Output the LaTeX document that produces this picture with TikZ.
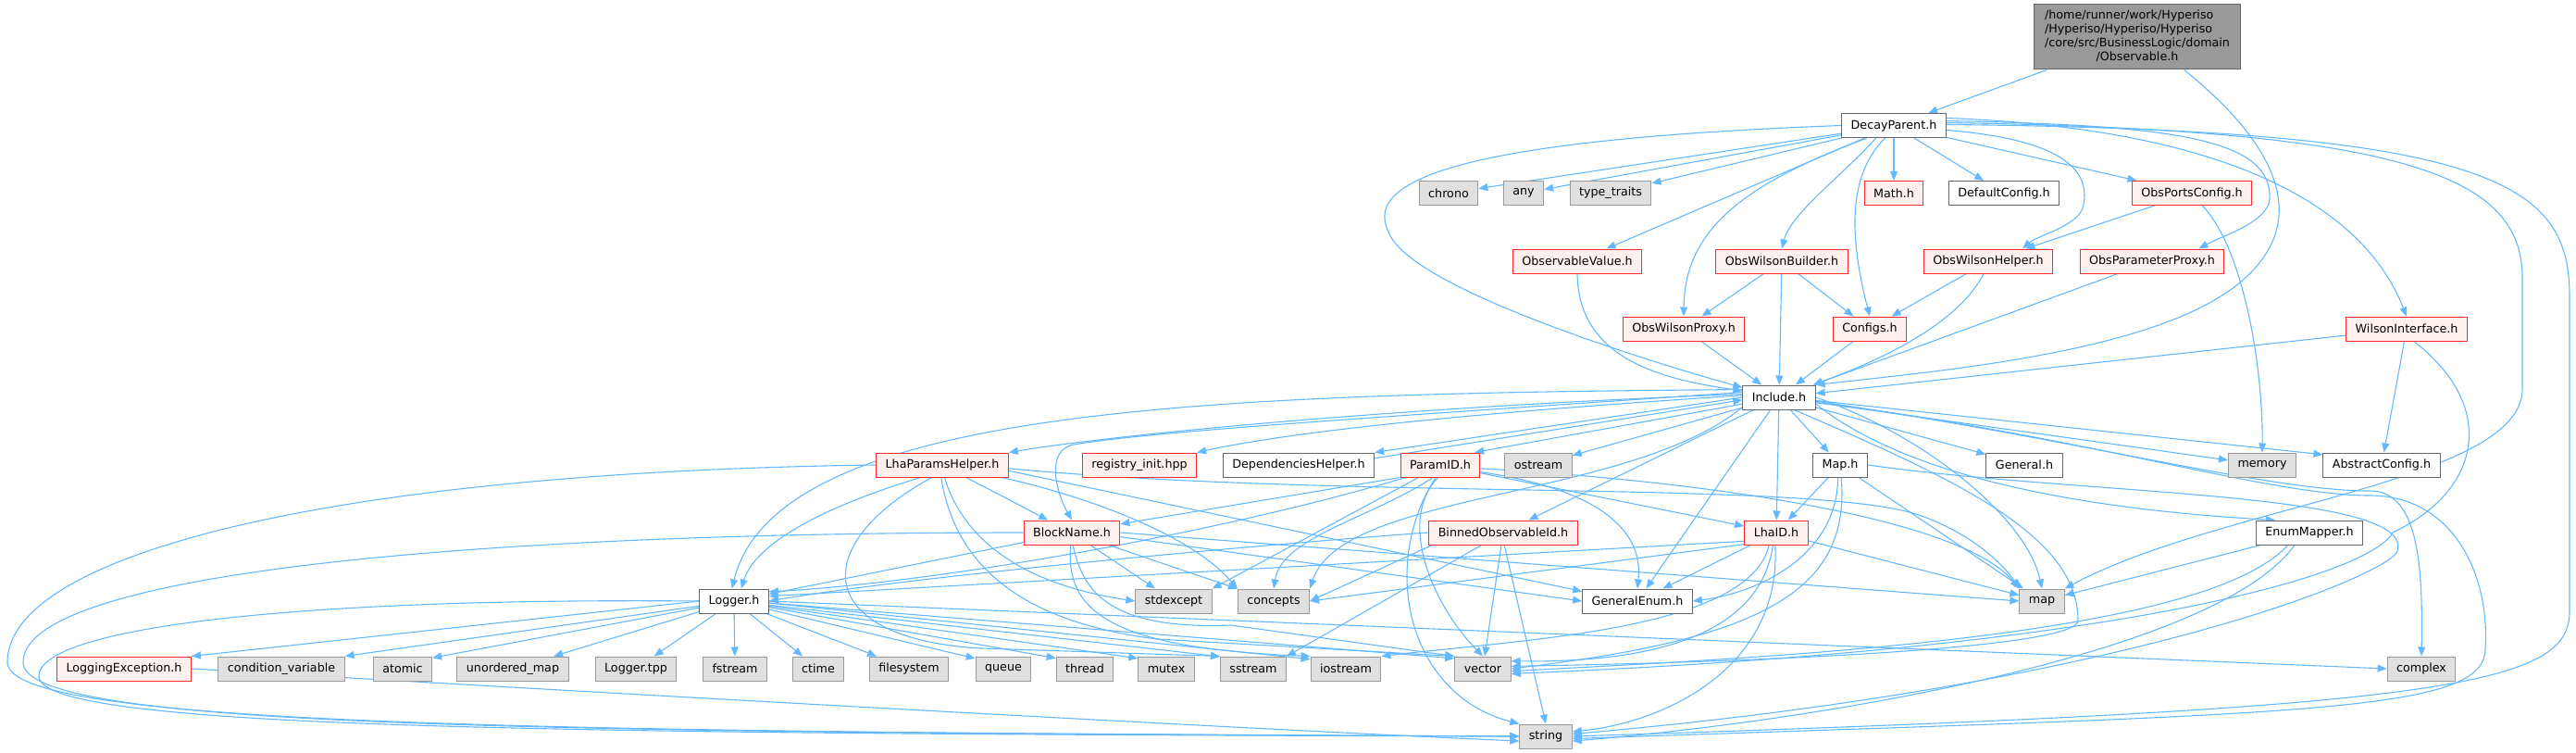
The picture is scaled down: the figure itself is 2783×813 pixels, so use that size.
\documentclass[tikz,border=0pt]{standalone}
\usepackage{fontspec}
\setmainfont{DejaVu Sans}
\usetikzlibrary{arrows.meta,backgrounds}
\definecolor{bleu}{HTML}{63B8FF}
\definecolor{rouge}{HTML}{FF2A2A}
\definecolor{rose}{HTML}{FFF0F0}
\definecolor{grisclair}{HTML}{E0E0E0}
\definecolor{grismoyen}{HTML}{999999}
\definecolor{grisfonce}{HTML}{666666}
\tikzstyle{boite}=[rectangle,line width=1pt,minimum height=26pt,inner xsep=10pt,inner ysep=2pt,font=\fontsize{12.7}{15}\selectfont]
\tikzstyle{fichier}=[boite,draw=grisfonce,fill=white]
\tikzstyle{incomplet}=[boite,draw=rouge,fill=rose]
\tikzstyle{systeme}=[boite,draw=grismoyen,fill=grisclair]
\tikzstyle{racine}=[boite,draw=grisfonce,fill=grismoyen,inner xsep=12pt,inner ysep=5pt]
\tikzstyle{lien}=[->,draw=bleu,line width=1.1pt]

\begin{document}
\begin{tikzpicture}[x=1pt,y=-1pt,>={Triangle[length=10pt,width=8pt]}]
\useasboundingbox (0,0) rectangle (2783,813);

\node[racine] (observable) at (2309,40) {\begin{tabular}{@{}l@{}}/home/runner/work/Hyperiso\\/Hyperiso/Hyperiso/Hyperiso\\/core/src/BusinessLogic/domain\\\multicolumn{1}{@{}c@{}}{/Observable.h}\end{tabular}};
\node[fichier] (decay) at (2046,135.5) {DecayParent.h};
\node[systeme] (chrono) at (1565,208.5) {chrono};
\node[systeme] (any) at (1646,208.5) {any};
\node[systeme] (typetraits) at (1740,208.5) {type\_traits};
\node[incomplet] (math) at (2046,208.5) {Math.h};
\node[fichier] (defaultconfig) at (2165,208.5) {DefaultConfig.h};
\node[incomplet] (portsconfig) at (2368,208.5) {ObsPortsConfig.h};
\node[incomplet] (observablevalue) at (1704,282) {ObservableValue.h};
\node[incomplet] (wilsonbuilder) at (1925,282) {ObsWilsonBuilder.h};
\node[incomplet] (wilsonhelper) at (2148,282) {ObsWilsonHelper.h};
\node[incomplet] (parameterproxy) at (2325,282) {ObsParameterProxy.h};
\node[incomplet] (wilsonproxy) at (1819,355) {ObsWilsonProxy.h};
\node[incomplet] (configs) at (2020,355) {Configs.h};
\node[incomplet] (wilsoninterface) at (2600,355) {WilsonInterface.h};
\node[fichier] (include) at (1922,429) {Include.h};
\node[incomplet] (lhaparams) at (1018,502) {LhaParamsHelper.h};
\node[incomplet] (registry) at (1231,502) {registry\_init.hpp};
\node[fichier] (dependencies) at (1403,502) {DependenciesHelper.h};
\node[incomplet] (paramid) at (1556,502) {ParamID.h};
\node[systeme] (ostream) at (1662,502) {ostream};
\node[fichier] (maph) at (1988,502) {Map.h};
\node[fichier] (general) at (2187,502) {General.h};
\node[systeme] (memory) at (2444,502) {memory};
\node[fichier] (abstractconfig) at (2573,502) {AbstractConfig.h};
\node[incomplet] (blockname) at (1158,575) {BlockName.h};
\node[incomplet] (binned) at (1624,575) {BinnedObservableId.h};
\node[incomplet] (lhaid) at (1919,575) {LhaID.h};
\node[fichier] (enummapper) at (2495,575) {EnumMapper.h};
\node[fichier] (logger) at (793,649) {Logger.h};
\node[systeme] (stdexcept) at (1268,649) {stdexcept};
\node[systeme] (concepts) at (1376,649) {concepts};
\node[fichier] (generalenum) at (1769,649) {GeneralEnum.h};
\node[systeme] (map) at (2206,649) {map};
\node[incomplet] (loggingexception) at (134,722) {LoggingException.h};
\node[systeme] (condvar) at (304,722) {condition\_variable};
\node[systeme] (atomic) at (435,722) {atomic};
\node[systeme] (unorderedmap) at (554,722) {unordered\_map};
\node[systeme] (loggertpp) at (687,722) {Logger.tpp};
\node[systeme] (fstream) at (794,722) {fstream};
\node[systeme] (ctime) at (884,722) {ctime};
\node[systeme] (filesystem) at (982,722) {filesystem};
\node[systeme] (queue) at (1084,722) {queue};
\node[systeme] (thread) at (1172,722) {thread};
\node[systeme] (mutex) at (1260,722) {mutex};
\node[systeme] (sstream) at (1354,722) {sstream};
\node[systeme] (iostream) at (1454,722) {iostream};
\node[systeme] (vector) at (1602,722) {vector};
\node[systeme] (complex) at (2616,722) {complex};
\node[systeme] (string) at (1670,795) {string};

\begin{scope}[on background layer]
\draw[lien] (observable) -- (decay);
\draw[lien] (observable.-35) .. controls (2440,140) and (2510,230) .. (2420,305) .. controls (2330,380) and (2100,400) .. (include.north east);

\draw[lien] (decay) -- (chrono);
\draw[lien] (decay) -- (any);
\draw[lien] (decay) -- (typetraits);
\draw[lien] (decay) -- (observablevalue);
\draw[lien] (decay.-155) .. controls (1880,200) and (1820,250) .. (wilsonproxy.north);
\draw[lien] (decay.-145) .. controls (1990,190) and (1935,230) .. (wilsonbuilder.north);
\draw[lien] (decay.-125) .. controls (2000,185) and (1995,245) .. (configs.north);
\draw[lien] (decay) -- (math);
\draw[lien] (decay) -- (defaultconfig);
\draw[lien] (decay) -- (portsconfig);
\draw[lien] (decay.-5) .. controls (2220,150) and (2262,180) .. (2250,225) .. controls (2242,245) and (2200,255) .. (wilsonhelper.20);
\draw[lien] (decay.5) .. controls (2350,135) and (2455,150) .. (2452,215) .. controls (2450,240) and (2400,255) .. (parameterproxy.15);
\draw[lien] (decay.8) .. controls (2440,140) and (2560,240) .. (wilsoninterface.north);
\draw[lien] (decay.west) .. controls (1600,150) and (1470,190) .. (1500,250) .. controls (1520,310) and (1780,390) .. (include.165);
\draw[lien] (decay.3) .. controls (2600,140) and (2725,190) .. (2725,300) -- (2725,420) .. controls (2725,520) and (2400,545) .. (map.north east);
\draw[lien] (decay.1) .. controls (2700,140) and (2776,200) .. (2776,320) -- (2776,660) .. controls (2776,740) and (2650,765) .. (string.east);

\draw[lien] (portsconfig) -- (wilsonhelper);
\draw[lien] (portsconfig.-50) .. controls (2425,270) and (2445,400) .. (memory.north);

\draw[lien] (observablevalue.south) .. controls (1705,390) and (1800,410) .. (include.170);
\draw[lien] (wilsonbuilder) -- (wilsonproxy);
\draw[lien] (wilsonbuilder) -- (configs);
\draw[lien] (wilsonbuilder) -- (include);
\draw[lien] (wilsonhelper) -- (configs);
\draw[lien] (wilsonhelper.-110) .. controls (2110,360) and (2000,400) .. (include.20);
\draw[lien] (parameterproxy) -- (include);
\draw[lien] (wilsonproxy) -- (include);
\draw[lien] (configs) -- (include);
\draw[lien] (wilsoninterface) -- (include);
\draw[lien] (wilsoninterface) -- (abstractconfig);
\draw[lien] (wilsoninterface.-60) .. controls (2700,440) and (2680,530) .. (2585,575) .. controls (2560,620) and (2300,700) .. (vector.-10);

\draw[lien] (include.175) .. controls (1500,440) and (1200,470) .. (lhaparams.north east);
\draw[lien] (include.177) .. controls (1600,445) and (1400,465) .. (registry.north east);
\draw[lien] (include.180) -- (dependencies.north east);
\draw[lien] (dependencies.5) -- (include.184);
\draw[lien] (include) -- (paramid.20);
\draw[lien] (include) -- (ostream);
\draw[lien] (include) -- (maph);
\draw[lien] (include) -- (general);
\draw[lien] (include) -- (memory);
\draw[lien] (include.-5) -- (abstractconfig.170);
\draw[lien] (include.172) .. controls (1500,450) and (1250,465) .. (1160,480) .. controls (1130,485) and (1140,530) .. (blockname.north);
\draw[lien] (include.168) .. controls (1300,425) and (840,440) .. (logger.100);
\draw[lien] (include) -- (binned);
\draw[lien] (include) -- (lhaid);
\draw[lien] (include.-10) .. controls (2060,515) and (2250,550) .. (enummapper.160);
\draw[lien] (include.-165) .. controls (1760,540) and (1450,530) .. (concepts.north east);
\draw[lien] (include) -- (generalenum);
\draw[lien] (include.east) .. controls (2080,470) and (2190,560) .. (map.north);
\draw[lien] (include.-40) .. controls (2120,520) and (2245,580) .. (2245,670) .. controls (2245,700) and (1900,715) .. (vector.5);
\draw[lien] (include.-8) .. controls (2250,470) and (2450,535) .. (2560,535) .. controls (2650,535) and (2690,620) .. (2685,700) .. controls (2685,770) and (2500,770) .. (string.-5);
\draw[lien] (include.-6) .. controls (2250,475) and (2450,530) .. (2560,530) .. controls (2610,530) and (2618,600) .. (complex.north);

\draw[lien] (lhaparams.west) .. controls (350,510) and (8,600) .. (8,715) .. controls (8,785) and (600,790) .. (string.west);
\draw[lien] (lhaparams.-150) .. controls (880,550) and (815,590) .. (logger.60);
\draw[lien] (lhaparams) -- (blockname);
\draw[lien] (lhaparams.-80) .. controls (1040,580) and (1100,630) .. (stdexcept.west);
\draw[lien] (lhaparams.-12) .. controls (1150,530) and (1280,570) .. (concepts.north west);
\draw[lien] (lhaparams.-5) -- (generalenum.170);
\draw[lien] (lhaparams.-3) .. controls (1450,540) and (1950,518) .. (2070,555) .. controls (2130,575) and (2165,610) .. (map.north west);
\draw[lien] (lhaparams.-130) .. controls (870,590) and (880,690) .. (1060,700) -- (sstream.north west);
\draw[lien] (lhaparams.-95) .. controls (1030,600) and (1090,670) .. (1250,690) -- (vector.north west);

\draw[lien] (blockname.west) .. controls (500,575) and (25,620) .. (25,715) .. controls (25,788) and (600,790) .. (string.west);
\draw[lien] (blockname) -- (logger);
\draw[lien] (blockname) -- (stdexcept);
\draw[lien] (blockname) -- (concepts);
\draw[lien] (blockname.-5) -- (generalenum.west);
\draw[lien] (blockname.east) -- (map.west);
\draw[lien] (blockname.-95) .. controls (1150,660) and (1200,700) .. (iostream.north west);
\draw[lien] (blockname.-85) .. controls (1170,640) and (1200,680) .. (1330,675) -- (vector.north west);

\draw[lien] (paramid.-160) .. controls (1300,580) and (1000,630) .. (logger.15);
\draw[lien] (paramid.south west) -- (blockname.10);
\draw[lien] (paramid.-150) -- (stdexcept.north east);
\draw[lien] (paramid.-120) .. controls (1480,560) and (1385,580) .. (concepts.north);
\draw[lien] (paramid) -- (lhaid);
\draw[lien] (paramid.-10) .. controls (1740,530) and (1775,580) .. (generalenum.north);
\draw[lien] (paramid.-5) .. controls (1850,520) and (2120,560) .. (map.north west);
\draw[lien] (paramid.-100) .. controls (1510,560) and (1545,650) .. (vector.north);
\draw[lien] (paramid.-110) .. controls (1490,610) and (1520,750) .. (string.north west);

\draw[lien] (binned.west) .. controls (1400,585) and (1000,620) .. (logger.east);
\draw[lien] (binned.-170) -- (concepts.east);
\draw[lien] (binned.-150) -- (sstream.north east);
\draw[lien] (binned) -- (vector);
\draw[lien] (binned.-85) -- (string.north);

\draw[lien] (lhaid.-165) -- (logger.8);
\draw[lien] (lhaid.-160) -- (concepts.east);
\draw[lien] (lhaid) -- (generalenum);
\draw[lien] (lhaid) -- (map);
\draw[lien] (lhaid.-120) .. controls (1890,680) and (1650,690) .. (iostream.north east);
\draw[lien] (lhaid.-105) .. controls (1900,700) and (1750,715) .. (vector.15);
\draw[lien] (lhaid.-95) .. controls (1925,720) and (1800,780) .. (string.10);

\draw[lien] (maph) -- (lhaid);
\draw[lien] (maph.-100) .. controls (1985,600) and (1900,640) .. (generalenum.east);
\draw[lien] (maph) -- (map);
\draw[lien] (maph.-85) .. controls (2000,640) and (1900,690) .. (vector.east);
\draw[lien] (maph.east) .. controls (2250,535) and (2610,530) .. (2590,595) .. controls (2582,620) and (2300,740) .. (string.5);

\draw[lien] (enummapper) -- (map);
\draw[lien] (enummapper.-150) .. controls (2380,690) and (1900,710) .. (vector.-5);
\draw[lien] (enummapper.-140) .. controls (2400,700) and (2000,775) .. (string.-10);

\draw[lien] (logger.west) -- (loggingexception.north east);
\draw[lien] (logger) -- (condvar.north east);
\draw[lien] (logger) -- (atomic.20);
\draw[lien] (logger) -- (unorderedmap);
\draw[lien] (logger) -- (loggertpp);
\draw[lien] (logger) -- (fstream);
\draw[lien] (logger) -- (ctime);
\draw[lien] (logger) -- (filesystem);
\draw[lien] (logger) -- (queue.160);
\draw[lien] (logger) -- (thread.160);
\draw[lien] (logger) -- (mutex.160);
\draw[lien] (logger) -- (sstream.160);
\draw[lien] (logger.-3) -- (iostream.165);
\draw[lien] (logger.-3) -- (vector.160);
\draw[lien] (logger.east) -- (complex.west);
\draw[lien] (logger.west) .. controls (300,645) and (42,680) .. (42,730) .. controls (42,788) and (600,792) .. (string.west);

\draw[lien] (loggingexception.east) .. controls (600,745) and (1300,785) .. (string.-170);
\end{scope}
\end{tikzpicture}
\end{document}
